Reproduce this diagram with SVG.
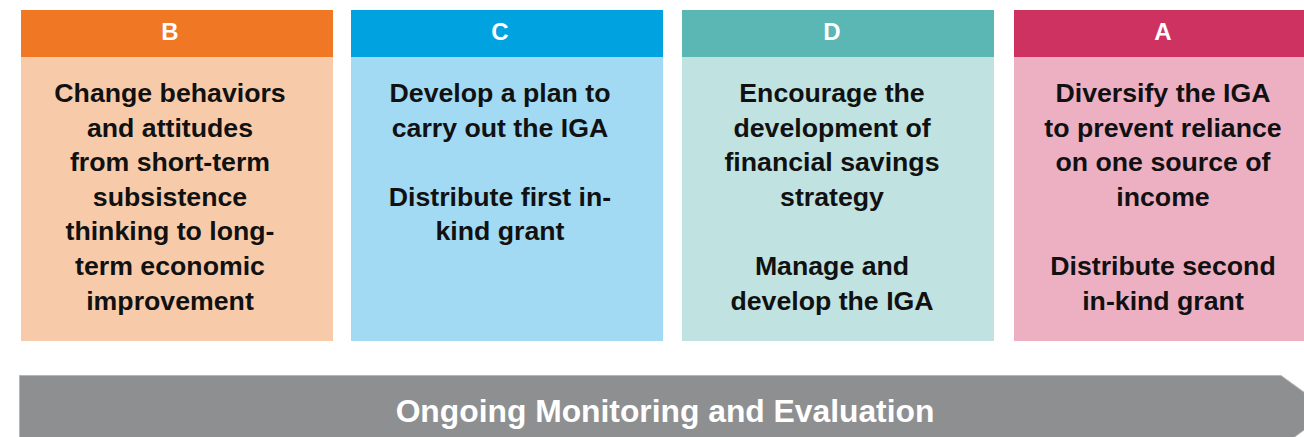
<svg xmlns="http://www.w3.org/2000/svg" width="1304" height="437" viewBox="0 0 1304 437">
<style>
.hd{font-family:"Liberation Sans",Arial,sans-serif;font-weight:bold;font-size:24px;fill:#fff;text-anchor:middle}
.bd{font-family:"Liberation Sans",Arial,sans-serif;font-weight:bold;font-size:26.7px;fill:#111;text-anchor:middle}
.ar{font-family:"Liberation Sans",Arial,sans-serif;font-weight:bold;font-size:31.8px;fill:#fff;text-anchor:middle}
</style>
<rect width="1304" height="437" fill="#fff"/>
<g id="node-B">
<rect x="21" y="10" width="312" height="47" fill="#F07723"/>
<rect x="21" y="57" width="312" height="284" fill="#F7CBAA"/>
<text class="hd" x="170" y="40">B</text>
<text class="bd" x="170" y="102">Change behaviors</text>
<text class="bd" x="170" y="136.6">and attitudes</text>
<text class="bd" x="170" y="171.2">from short-term</text>
<text class="bd" x="170" y="205.8">subsistence</text>
<text class="bd" x="170" y="240.4">thinking to long-</text>
<text class="bd" x="170" y="275">term economic</text>
<text class="bd" x="170" y="309.6">improvement</text>
</g>
<g id="node-C">
<rect x="351" y="10" width="312" height="47" fill="#00A3E0"/>
<rect x="351" y="57" width="312" height="284" fill="#A2DAF4"/>
<text class="hd" x="500" y="40">C</text>
<text class="bd" x="500" y="102">Develop a plan to</text>
<text class="bd" x="500" y="136.6">carry out the IGA</text>
<text class="bd" x="500" y="205.8">Distribute first in-</text>
<text class="bd" x="500" y="240.4">kind grant</text>
</g>
<g id="node-D">
<rect x="682" y="10" width="312" height="47" fill="#5BB7B3"/>
<rect x="682" y="57" width="312" height="284" fill="#C0E2E1"/>
<text class="hd" x="832" y="40">D</text>
<text class="bd" x="832" y="102">Encourage the</text>
<text class="bd" x="832" y="136.6">development of</text>
<text class="bd" x="832" y="171.2">financial savings</text>
<text class="bd" x="832" y="205.8">strategy</text>
<text class="bd" x="832" y="275">Manage and</text>
<text class="bd" x="832" y="309.6">develop the IGA</text>
</g>
<g id="node-A">
<rect x="1014" y="10" width="312" height="47" fill="#CE3260"/>
<rect x="1014" y="57" width="312" height="284" fill="#EDB0C3"/>
<text class="hd" x="1163" y="40">A</text>
<text class="bd" x="1163" y="102">Diversify the IGA</text>
<text class="bd" x="1163" y="136.6">to prevent reliance</text>
<text class="bd" x="1163" y="171.2">on one source of</text>
<text class="bd" x="1163" y="205.8">income</text>
<text class="bd" x="1163" y="275">Distribute second</text>
<text class="bd" x="1163" y="309.6">in-kind grant</text>
</g>
<g id="connectors">
<g id="monitoring-arrow">
<polygon points="19.5,375.5 1281,375.5 1330,411 1281,447 19.5,447" fill="#8E8F91" stroke="#B4B5B7" stroke-width="1"/>
<text class="ar" x="665" y="422">Ongoing Monitoring and Evaluation</text>
</g>
</g>
</svg>
